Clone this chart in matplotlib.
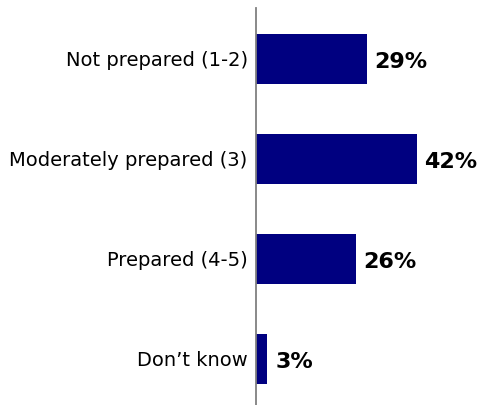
import matplotlib.pyplot as plt

# Preparedness categories and share of respondents (%)
categories = ['Not prepared (1-2)', 'Moderately prepared (3)', 'Prepared (4-5)', 'Don\u2019t know']
values = [29, 42, 26, 3]

fig = plt.figure(figsize=(4.8, 4.05), dpi=100)
ax = fig.add_axes([256 / 480, 0, 224 / 480, 397 / 405])

pos = list(range(len(categories)))
ax.barh(pos, values, height=0.5, color='#000080')

for y, v in zip(pos, values):
    ax.text(v + 2, y + 0.03, f'{v}%', va='center', ha='left',
            fontsize=16, fontweight='bold', family='DejaVu Sans', color='black')

ax.set_yticks(pos)
ax.set_yticklabels(categories, fontsize=14, family='DejaVu Sans')
ax.tick_params(axis='y', length=0, pad=6)
ax.set_xticks([])
ax.set_xlim(0, 58.5)
ax.set_ylim(3.46, -0.51)

for side in ['top', 'right', 'bottom']:
    ax.spines[side].set_visible(False)
ax.spines['left'].set_color('#808080')
ax.spines['left'].set_linewidth(1.3)

fig.savefig('out.png', dpi=100)
